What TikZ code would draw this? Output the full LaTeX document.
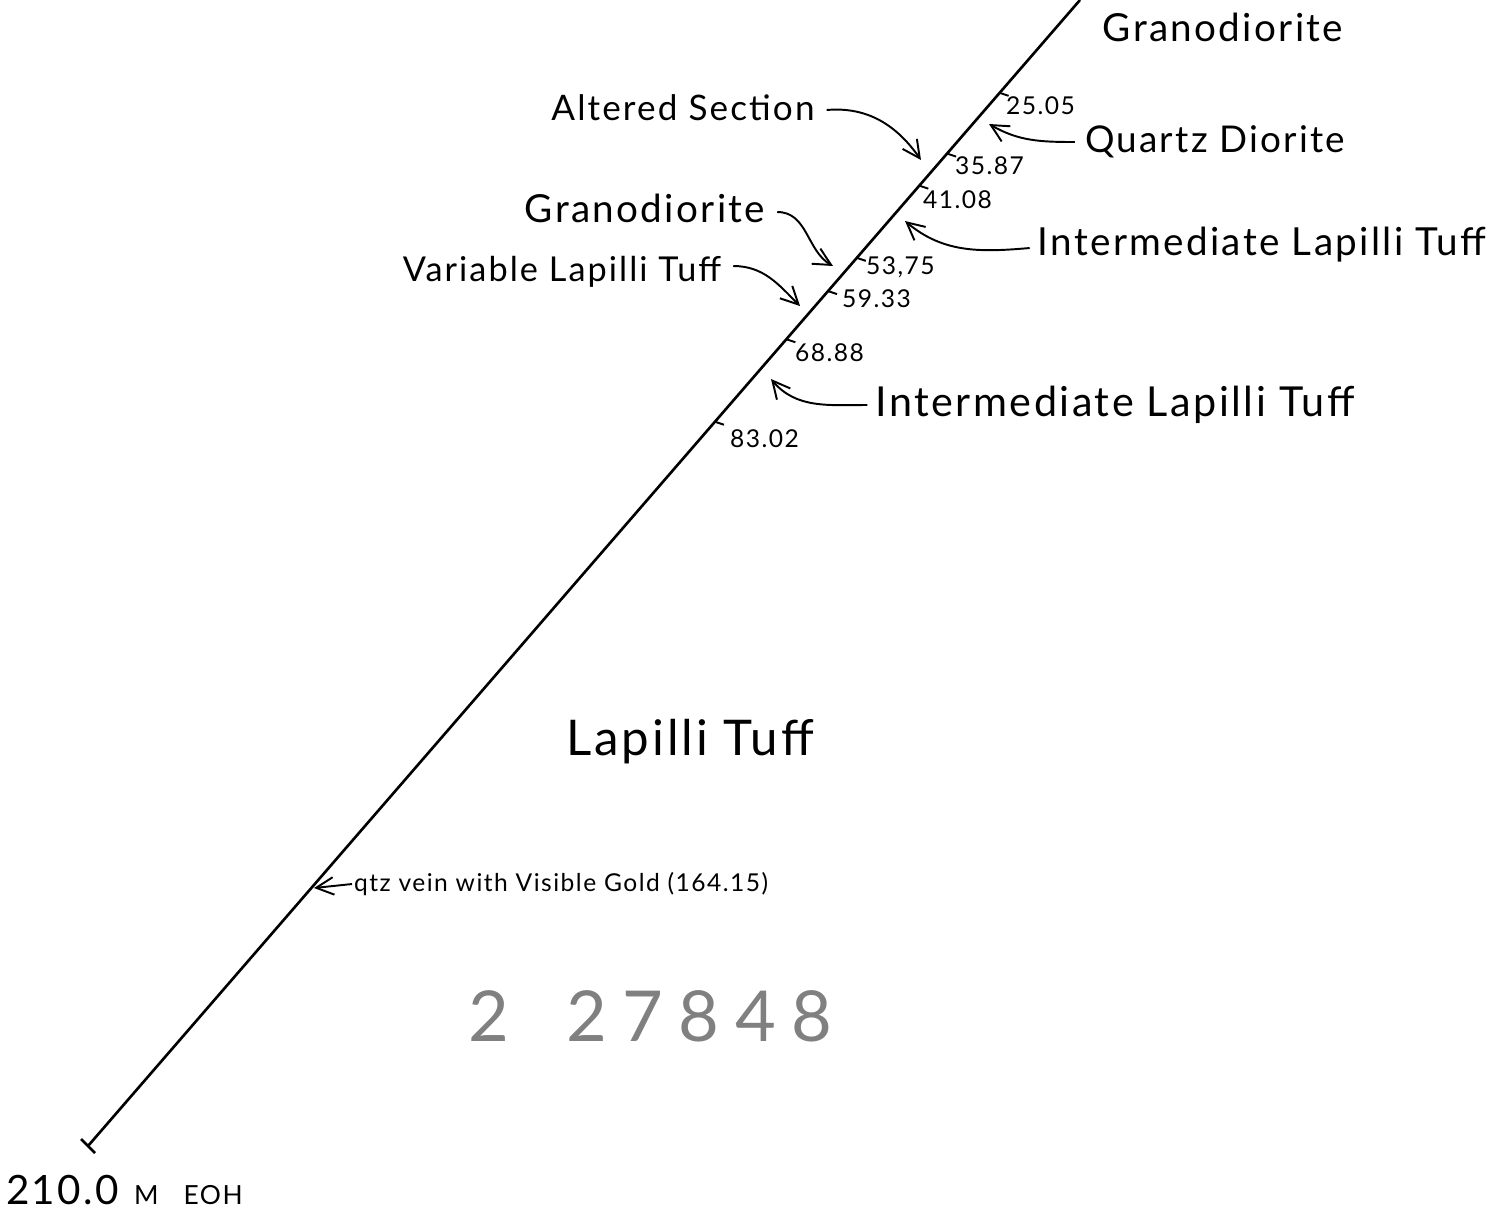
\documentclass[tikz,border=0pt]{standalone}
\usepackage{fontspec}
\setmainfont{Lato}[LetterSpace=6]
\usetikzlibrary{arrows.meta}
\newcommand{\fsz}[1]{\fontsize{#1}{#1}\selectfont}

\begin{document}
\begin{tikzpicture}[x=0.02cm,y=-0.02cm,
        every node/.style={inner sep=1pt},
        rock/.style={font=\fsz{22pt}},
        depth/.style={font=\fsz{14pt}, anchor=north west},
        pointer/.style={line width=1.1pt, -{Straight Barb[length=3.5mm,width=3.5mm]}},
        tickmark/.style={line width=1.1pt}]
    \useasboundingbox (0,0) rectangle (1508,1215);
    % drill hole trace
    \draw[line width=1.5pt] (1080,0) coordinate (collar) -- (88,1146) coordinate (eoh)
        coordinate[pos=0.081] (d25)  coordinate[pos=0.134] (d35)
        coordinate[pos=0.162] (d41)  coordinate[pos=0.225] (d53)
        coordinate[pos=0.254] (d59)  coordinate[pos=0.296] (d68)
        coordinate[pos=0.368] (d83);
    \draw[line width=1.5pt] (eoh) ++(-7,-7) -- ++(14,14);  % end of hole
    % depth ticks
    \foreach \d in {d25,d35,d41,d53,d59,d68,d83}
        \draw[tickmark] (\d) -- ++(9,3);
    \node[depth] (n25) at (1004,95)  {25.05};
    \node[depth] (n35) at (953,155)  {35.87};
    \node[depth] (n41) at (921,189)  {41.08};
    \node[depth] (n53) at (864,255)  {53,75};
    \node[depth] (n59) at (840,288)  {59.33};
    \node[depth] (n68) at (793,342)  {68.88};
    \node[depth] (n83) at (728,428)  {83.02};
    % rock units
    \node[rock] (granoTop) at (1223,27)  {Granodiorite};
    \node[rock, font=\fsz{20pt}] (altered)  at (683,108)  {Altered Section};
    \node[rock, font=\fsz{21pt}] (quartz)   at (1215,142) {Quartz Diorite};
    \node[rock] (granoMid) at (645,208)  {Granodiorite};
    \node[rock] (interUp)  at (1262,245) {Intermediate Lapilli Tuff};
    \node[rock, font=\fsz{19.5pt}] (variable) at (562,272)  {Variable Lapilli Tuff};
    \node[rock, font=\fsz{23.5pt}] (interLow) at (1115,405) {Intermediate Lapilli Tuff};
    \node[font=\fsz{28pt}] (lapilli) at (690,742) {Lapilli Tuff};
    \node[font=\fsz{14pt}, anchor=west] (vein) at (352,884) {qtz vein with Visible Gold (164.15)};
    % faded stamp
    \node[font=\fsz{40pt}\addfontfeature{LetterSpace=22}, text=black!50, anchor=west] (stamp)
        at (466,1016) {2\hspace{1.15cm}27848};
    \node[anchor=west] (eohText) at (4,1190)
        {\fsz{23pt}210.0\hspace{0.3cm}\fsz{15pt}M\hspace{0.5cm}EOH};
    % pointers
    \coordinate (alteredTip) at (921,160);
    \coordinate (quartzTip)  at (989,124);
    \coordinate (interUpTip) at (905,221);
    \coordinate (granoTip)   at (833,266);
    \coordinate (varTip)     at (800,306);
    \coordinate (interLoTip) at (771,379);
    \coordinate (veinTip)    at (314,888);
    \draw[pointer] (altered.east) ++(10,2) to[out=5,in=125] (alteredTip);
    \draw[pointer] (quartz.west) ++(-8,0) to[out=180,in=-30] (quartzTip);
    \draw[pointer] (interUp.west) ++(-6,3) to[out=185,in=-40] (interUpTip);
    \draw[pointer] (granoMid.east) ++(10,4) to[out=0,in=150] (granoTip);
    \draw[pointer] (variable.east) ++(10,-6) to[out=0,in=135] (varTip);
    \draw[pointer] (interLow.west) ++(-6,0) to[out=180,in=-50] (interLoTip);
    \draw[pointer] (vein.west) -- (veinTip);
\end{tikzpicture}
\end{document}
